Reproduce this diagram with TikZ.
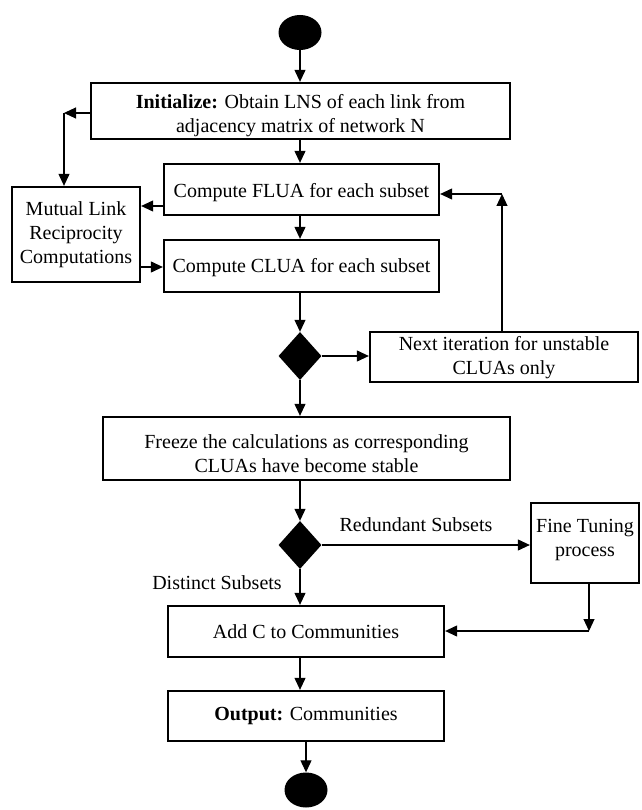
\documentclass[tikz,border=0pt]{standalone}
\usepackage{fontspec}
\setmainfont{Liberation Serif}
\usetikzlibrary{shapes.geometric,arrows.meta}
\begin{document}
\begin{tikzpicture}[x=1pt,y=-1pt,
  box/.style={draw, line width=2.3pt, rectangle, inner sep=0pt},
  txt/.style={align=center, inner sep=0pt, font=\fontsize{20}{24}\selectfont},
  arr/.style={line width=1.1pt, -{Triangle[length=12pt,width=11pt]}},
  lbl/.style={font=\fontsize{20}{24}\selectfont, inner sep=0pt},
  dec/.style={diamond, fill=black, draw=none, minimum width=43pt, minimum height=48pt, inner sep=0pt},
  term/.style={ellipse, fill=black, draw=none, minimum width=43pt, minimum height=35pt, inner sep=0pt}]
\useasboundingbox (0,0) rectangle (641,810);

\coordinate (cx) at (300,0);

\node[term] (start) at (300,32.5) {};
\node[box, minimum width=419pt, minimum height=56pt] (init) at (300.5,111) {};
\node[txt] (init-t) at ([yshift=-5pt]init.center)
  {\textbf{Initialize:} Obtain LNS of each link from\\adjacency matrix of network N};
\node[box, minimum width=128pt, minimum height=95pt] (mutual) at (76,234.5) {};
\node[txt] (mutual-t) at (mutual.center) {Mutual Link\\Reciprocity\\Computations};
\node[box, minimum width=275pt, minimum height=51pt] (flua) at (301.5,189.5) {};
\node[txt] (flua-t) at ([yshift=-3pt]flua.center) {Compute FLUA for each subset};
\node[box, minimum width=275pt, minimum height=52pt] (clua) at (301.5,266) {};
\node[txt] (clua-t) at ([yshift=-2pt]clua.center) {Compute CLUA for each subset};
\node[dec] (d1) at (300,356) {};
\node[box, minimum width=268pt, minimum height=50pt] (next) at (504,357) {};
\node[txt] (next-t) at ([yshift=-1pt]next.center) {Next iteration for unstable\\CLUAs only};
\node[box, minimum width=407pt, minimum height=63pt] (freeze) at (306.5,448.5) {};
\node[txt] (freeze-t) at ([yshift=-5pt]freeze.center)
  {Freeze the calculations as corresponding\\CLUAs have become stable};
\node[dec] (d2) at (300,545) {};
\node[box, minimum width=108pt, minimum height=80pt] (fine) at (585,543) {};
\node[txt] (fine-t) at ([yshift=3pt]fine.center) {Fine Tuning\\process};
\node[box, minimum width=276pt, minimum height=51pt] (addc) at (306,631.5) {};
\node[txt] (addc-t) at (addc.center) {Add C to Communities};
\node[box, minimum width=276pt, minimum height=50pt] (output) at (306,716) {};
\node[txt] (output-t) at (output.center) {\textbf{Output:} Communities};
\node[term] (end) at (306,790) {};

\node[lbl] (red) at (416,525) {Redundant Subsets};
\node[lbl] (dis) at (217,583) {Distinct Subsets};

\coordinate (c1) at (64,113);
\coordinate (c2) at (502,194);
\coordinate (c3) at (589,631);
\coordinate (yf) at (0,206);
\coordinate (ym) at (0,267);

\draw[arr] (start.south) -- (start.south |- init.north);
\draw[arr] (init.south -| cx) -- (flua.north -| cx);
\draw[arr] (init.west |- c1) -- (c1);
\draw[arr] (c1) -- (c1 |- mutual.north);
\draw[arr] (flua.west |- yf) -- (mutual.east |- yf);
\draw[arr] (mutual.east |- ym) -- (clua.west |- ym);
\draw[arr] (flua.south -| cx) -- (clua.north -| cx);
\draw[arr] (clua.south -| cx) -- (d1.north);
\draw[arr] (d1.east) -- (d1.east -| next.west);
\draw[arr] (next.north -| c2) -- (c2);
\draw[arr] (c2) -- (c2 -| flua.east);
\draw[arr] (d1.south) -- (d1.south |- freeze.north);
\draw[arr] (freeze.south -| cx) -- (d2.north);
\draw[arr] (d2.east) -- (d2.east -| fine.west);
\draw[arr] (d2.south) -- (d2.south |- addc.north);
\draw[arr] (fine.south -| c3) -- (c3);
\draw[arr] (c3) -- (c3 -| addc.east);
\draw[arr] (addc.south -| cx) -- (output.north -| cx);
\draw[arr] (end.north |- output.south) -- (end.north);
\end{tikzpicture}
\end{document}
